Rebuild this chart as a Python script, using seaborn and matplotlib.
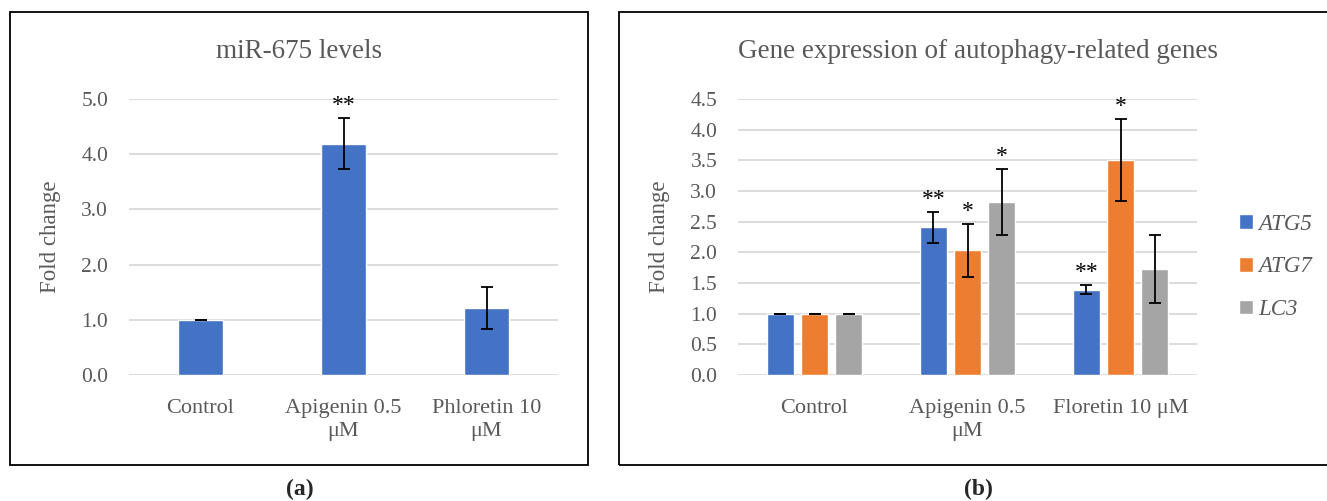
import numpy as np
import pandas as pd
import seaborn as sns
import matplotlib.pyplot as plt
from matplotlib.patches import Rectangle

# panel (a)
mir_groups = ["Control", "Apigenin 0.5\nμM", "Phloretin 10\nμM"]
mir_values = [1.0, 4.19, 1.21]
mir_errors = [0.0, 0.46, 0.38]
mir_stars = ["", "**", ""]

# panel (b)
gene_groups = ["Control", "Apigenin 0.5\nμM", "Floretin 10 μM"]
gene_names = ["ATG5", "ATG7", "LC3"]
atg5_values = [1.0, 2.41, 1.39]
atg5_errors = [0.0, 0.25, 0.075]
atg5_stars = ["", "**", "**"]
atg7_values = [1.0, 2.03, 3.50]
atg7_errors = [0.0, 0.43, 0.67]
atg7_stars = ["", "*", "*"]
lc3_values = [1.0, 2.82, 1.73]
lc3_errors = [0.0, 0.535, 0.56]
lc3_stars = ["", "*", ""]

colors = ["#4472C4", "#ED7D31", "#A5A5A5"]
text_grey = "#595959"

sns.set_style("white")
plt.rcParams["font.family"] = ["Liberation Serif", "DejaVu Serif"]

W, H = 1327, 501
fig = plt.figure(figsize=(W / 100, H / 100), dpi=100)


def px_axes(x0, x1, y_top, y_bot):
    return fig.add_axes([x0 / W, 1 - y_bot / H, (x1 - x0) / W, (y_bot - y_top) / H])


def style_axes(ax, ymax, step):
    ax.set_ylim(0, ymax)
    ax.set_yticks(np.arange(0, ymax + 0.01, step))
    ax.set_yticklabels([f"{v:.1f}" for v in np.arange(0, ymax + 0.01, step)])
    ax.yaxis.grid(True, color="#D9D9D9", lw=1.3)
    ax.set_axisbelow(True)
    for s in ax.spines.values():
        s.set_visible(False)
    ax.tick_params(axis="y", length=0, pad=15, labelsize=15.5, labelcolor=text_grey)
    ax.tick_params(axis="x", length=0, pad=17, labelsize=16, labelcolor=text_grey)
    for t in ax.get_xticklabels():
        t.set_linespacing(1.3)
    ax.set_xlabel("")


def add_stars(ax, x, top, star):
    if star:
        ax.annotate(star, (x, top), xytext=(0, 1.5), textcoords="offset points",
                    ha="center", va="bottom", fontsize=17, color="black",
                    annotation_clip=False)


# ---- (a) ----
ax1 = px_axes(129, 558, 99, 375)
df_a = pd.DataFrame({"group": mir_groups, "value": mir_values})
sns.barplot(data=df_a, x="group", y="value", color=colors[0], width=0.315,
            saturation=1, errorbar=None, ax=ax1)
style_axes(ax1, 5.0, 1.0)
ax1.set_xlim(-0.5, 2.5)
for bar, err, star in zip(ax1.containers[0], mir_errors, mir_stars):
    cx = bar.get_x() + bar.get_width() / 2
    h = bar.get_height()
    ax1.errorbar(cx, h, yerr=err, color="black", lw=1.3, capsize=4, capthick=1.3)
    add_stars(ax1, cx, h + err, star)
ax1.set_ylabel("Fold change", fontsize=16.5, color=text_grey)
ax1.yaxis.set_label_coords((61 - 129) / 429, 0.5)

# ---- (b) ----
ax2 = px_axes(738, 1197, 99, 375)
df_b = pd.DataFrame({
    "group": gene_groups * 3,
    "gene": np.repeat(gene_names, 3),
    "value": atg5_values + atg7_values + lc3_values,
})
sns.barplot(data=df_b, x="group", y="value", hue="gene", palette=colors,
            width=0.667, gap=0.22, saturation=1, errorbar=None, ax=ax2)
style_axes(ax2, 4.5, 0.5)
ax2.set_xlim(-0.5, 2.5)
all_err = [atg5_errors, atg7_errors, lc3_errors]
all_stars = [atg5_stars, atg7_stars, lc3_stars]
for cont, errs, stars in zip(ax2.containers, all_err, all_stars):
    for bar, err, star in zip(cont, errs, stars):
        cx = bar.get_x() + bar.get_width() / 2
        h = bar.get_height()
        ax2.errorbar(cx, h, yerr=err, color="black", lw=1.3, capsize=4, capthick=1.3)
        add_stars(ax2, cx, h + err, star)
ax2.set_ylabel("Fold change", fontsize=16.5, color=text_grey)
ax2.yaxis.set_label_coords((670 - 738) / 459, 0.5)

handles, labels = ax2.get_legend_handles_labels()
ax2.legend(handles, labels, loc="center left",
           bbox_to_anchor=(1239 / W, 1 - 267 / H), bbox_transform=fig.transFigure,
           frameon=False, borderpad=0, borderaxespad=0,
           handlelength=0.6, handleheight=0.6, handletextpad=0.25,
           labelspacing=0.95, prop={"style": "italic", "size": 16.5},
           labelcolor=text_grey)

# titles, frames, panel letters
fig.text(299 / W, 1 - 52 / H, "miR-675 levels", ha="center", va="center",
         fontsize=19.5, color=text_grey)
fig.text(978 / W, 1 - 52 / H, "Gene expression of autophagy-related genes",
         ha="center", va="center", fontsize=19.5, color=text_grey)
for x0, x1 in [(10, 588), (619, 1340)]:
    fig.add_artist(Rectangle((x0 / W, 1 - 465 / H), (x1 - x0) / W, 453 / H,
                             transform=fig.transFigure, fill=False,
                             edgecolor="black", lw=1.3))
fig.text(300 / W, 1 - 489 / H, "(a)", ha="center", va="center",
         fontsize=17, fontweight="bold")
fig.text(978 / W, 1 - 489 / H, "(b)", ha="center", va="center",
         fontsize=17, fontweight="bold")

fig.savefig("out.png", dpi=100)
